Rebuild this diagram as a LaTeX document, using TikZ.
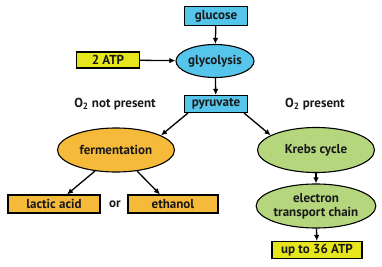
\documentclass[tikz,border=0pt]{standalone}
\usepackage{fontspec}
\setmainfont{PT Sans}
\usetikzlibrary{shapes.geometric,arrows.meta}
\definecolor{cblue}{HTML}{56C5EC}
\definecolor{cyel}{HTML}{E6E61C}
\definecolor{corange}{HTML}{F6BA3A}
\definecolor{cgreen}{HTML}{B5D67D}
\tikzset{
  lbl/.style={font=\fontsize{13}{14}\selectfont\bfseries, text=black!90},
  rbox/.style={lbl, draw=black, line width=1.1pt, inner sep=0pt, minimum height=17pt},
  oval/.style={lbl, ellipse, draw=black, line width=1.1pt, inner sep=0pt, align=center},
  arr/.style={line width=1.3pt, -{Latex[length=6pt,width=5.5pt]}},
}
\begin{document}
\begin{tikzpicture}[x=1pt,y=-1pt]
\useasboundingbox (0,0) rectangle (382,267);
\node[rbox, fill=cblue, minimum width=63pt, minimum height=19pt] (glu) at (216,16) {glucose};
\node[oval, fill=cblue, minimum width=78pt, minimum height=33pt] (gly) at (215,61) {glycolysis};
\node[rbox, fill=cyel, minimum width=63pt, minimum height=16pt] (atp2) at (108,60) {2 ATP};
\node[rbox, fill=cblue, minimum width=63pt] (pyr) at (216,104) {pyruvate};
\node[lbl] (nop) at (115,104) {O\textsubscript{2} not present};
\node[lbl] (pre) at (315,104) {O\textsubscript{2} present};
\node[oval, fill=corange, minimum width=117pt, minimum height=44pt] (fer) at (116,150) {fermentation};
\node[oval, fill=cgreen, minimum width=117pt, minimum height=45pt] (kre) at (316,150) {Krebs cycle};
\node[rbox, fill=corange, minimum width=92pt, minimum height=18pt] (lac) at (54,204) {lactic acid};
\node[lbl] (or) at (115,204) {or};
\node[rbox, fill=corange, minimum width=90pt, minimum height=18pt] (eth) at (173,204) {ethanol};
\node[oval, fill=cgreen, minimum width=115pt, minimum height=44pt, font=\fontsize{13}{14.5}\selectfont\bfseries] (etc) at (316,206) {electron\\transport chain};
\node[rbox, fill=cyel, minimum width=90pt] (atp36) at (317,250) {up to 36 ATP};
\draw[arr] (glu) -- (gly);
\draw[arr] (atp2) -- (gly);
\draw[arr] (gly) -- (pyr);
\draw[arr] ([xshift=4pt]pyr.south west) -- (fer.18);
\draw[arr] ([xshift=-4pt]pyr.south east) -- (kre.162);
\draw[arr] (fer.225) -- ([xshift=13pt]lac.north);
\draw[arr] (fer.315) -- ([xshift=-13pt]eth.north);
\draw[arr] (kre) -- (etc);
\draw[arr] (etc) -- (atp36);
\end{tikzpicture}
\end{document}
